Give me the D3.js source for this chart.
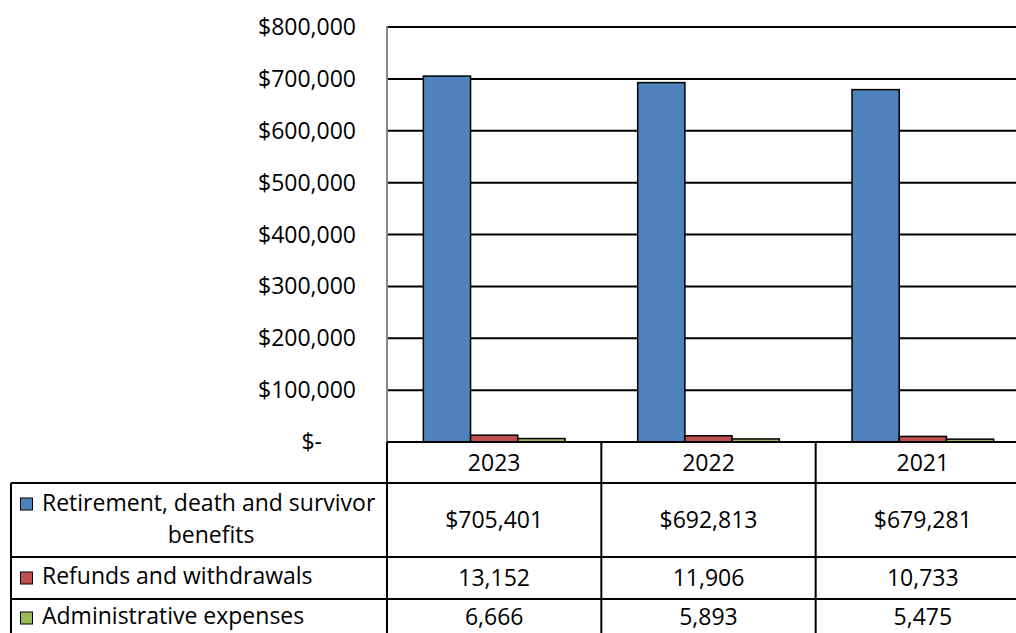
<!DOCTYPE html>
<html>
<head>
<meta charset="utf-8">
<script src="https://cdn.jsdelivr.net/npm/d3@7"></script>
<style>
body { margin: 0; background: #fff; overflow: hidden; }
text { font-family: "Open Sans", sans-serif; fill: #000; font-size: 23px; }
</style>
</head>
<body>
<div class="central"></div>
<script>
// Chart data
var years = ["2023", "2022", "2021"];
var seriesNames = ["Retirement, death and survivor benefits", "Refunds and withdrawals", "Administrative expenses"];
var benefits = [705401, 692813, 679281];
var refunds = [13152, 11906, 10733];
var adminExp = [6666, 5893, 5475];
var seriesColors = ["#4F81BD", "#C0504D", "#9BBB59"];
var yTicks = [0, 100000, 200000, 300000, 400000, 500000, 600000, 700000, 800000];

var width = 1016,
	height = 633;

var plotLeft = 387, plotRight = 1030, plotTop = 27, plotBottom = 442;
var tableLeft = 11;
// row boundaries of the data table under the plot
var rowBottoms = [483, 557, 599, 650];

var svg = d3.select(".central")
			.append("svg")
			.attr("width", width)
			.attr("height", height);

var x = d3.scaleBand()
			.domain(years)
			.range([plotLeft, plotRight]);

var xSeries = d3.scaleBand()
			.domain(d3.range(3))
			.range([0, x.bandwidth()])
			.paddingInner(0)
			.paddingOuter(0.77);

var y = d3.scaleLinear()
			.domain([0, 800000])
			.range([plotBottom, plotTop]);

//Gridlines
svg.selectAll(".grid")
	.data(yTicks.slice(1))
	.enter()
	.append("line")
	.attr("x1", plotLeft)
	.attr("x2", width)
	.attr("y1", function(d){ return y(d); })
	.attr("y2", function(d){ return y(d); })
	.style("stroke", "#000")
	.style("stroke-width", 2);

//Y axis line
svg.append("line")
	.attr("x1", plotLeft).attr("x2", plotLeft)
	.attr("y1", plotTop - 1).attr("y2", plotBottom)
	.style("stroke", "#868686")
	.style("stroke-width", 2);

//Y labels
svg.selectAll(".ylab")
	.data(yTicks)
	.enter()
	.append("text")
	.attr("class", "ylab")
	.attr("x", function(d){ return d == 0 ? 322 : 356; })
	.attr("y", function(d){ return y(d); })
	.attr("dy", "0.35em")
	.attr("text-anchor", "end")
	.text(function(d){
		if(d == 0) {
			return "$-";
		}
		return d3.format("$,")(d);
	});

//Bars
var allSeries = [benefits, refunds, adminExp];
allSeries.forEach(function(vals, s){
	svg.selectAll(".bar" + s)
		.data(vals)
		.enter()
		.append("rect")
		.attr("class", "bar" + s)
		.attr("x", function(d, i){ return x(years[i]) + xSeries(s); })
		.attr("y", function(d){ return y(d); })
		.attr("width", xSeries.bandwidth())
		.attr("height", function(d){ return plotBottom - y(d); })
		.style("fill", seriesColors[s])
		.style("stroke", "#000")
		.style("stroke-width", 1.5);
});

//Data table lines
var hline = function(x1, x2, yy){
	svg.append("line")
		.attr("x1", x1).attr("x2", x2)
		.attr("y1", yy).attr("y2", yy)
		.style("stroke", "#000")
		.style("stroke-width", 2);
};
var vline = function(xx, y1, y2){
	svg.append("line")
		.attr("x1", xx).attr("x2", xx)
		.attr("y1", y1).attr("y2", y2)
		.style("stroke", "#000")
		.style("stroke-width", 2);
};
hline(plotLeft, width, plotBottom);
hline(tableLeft, width, rowBottoms[0]);
hline(tableLeft, width, rowBottoms[1]);
hline(tableLeft, width, rowBottoms[2]);
vline(tableLeft, rowBottoms[0], height);
vline(plotLeft, plotBottom, height);
years.forEach(function(yr){
	vline(x(yr) + x.bandwidth(), plotBottom, height);
});

//Year labels
svg.selectAll(".yearLabel")
	.data(years)
	.enter()
	.append("text")
	.attr("class", "yearLabel")
	.attr("x", function(d){ return x(d) + x.bandwidth() / 2; })
	.attr("y", 463)
	.attr("dy", "0.35em")
	.attr("text-anchor", "middle")
	.text(function(d){ return d; });

//Table values
var rowMid = [520, 578, 617];
var fmt = [d3.format("$,"), d3.format(","), d3.format(",")];
allSeries.forEach(function(vals, s){
	svg.selectAll(".val" + s)
		.data(vals)
		.enter()
		.append("text")
		.attr("class", "val" + s)
		.attr("x", function(d, i){ return x(years[i]) + x.bandwidth() / 2; })
		.attr("y", rowMid[s])
		.attr("dy", "0.35em")
		.attr("text-anchor", "middle")
		.text(function(d){ return fmt[s](d); });
});

//Legend keys and labels
var keyY = [498, 572, 612];
seriesColors.forEach(function(c, s){
	svg.append("rect")
		.attr("x", 20.5)
		.attr("y", keyY[s])
		.attr("width", 12)
		.attr("height", 12)
		.style("fill", c)
		.style("stroke", "#000")
		.style("stroke-width", 1);
});
svg.append("text")
	.attr("x", 42).attr("y", 511)
	.text("Retirement, death and survivor");
svg.append("text")
	.attr("x", 211).attr("y", 543)
	.attr("text-anchor", "middle")
	.text("benefits");
svg.append("text")
	.attr("x", 42).attr("y", 584)
	.text(seriesNames[1]);
svg.append("text")
	.attr("x", 42).attr("y", 624)
	.text(seriesNames[2]);
</script>
</body>
</html>
